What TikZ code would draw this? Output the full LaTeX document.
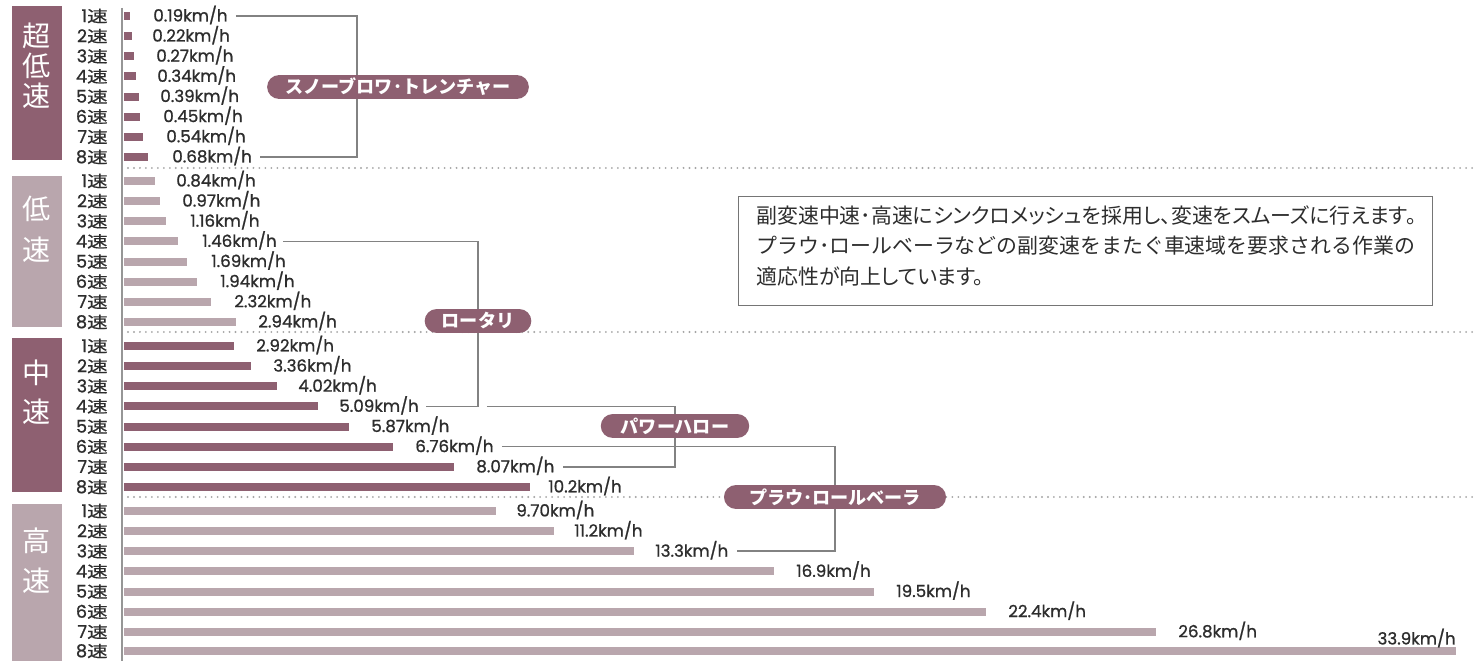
\documentclass[tikz,border=0pt]{standalone}
\usepackage{fontspec}
\setmainfont{Poppins}[FakeBold=1]
\newfontfamily\jp{Noto Sans CJK JP}
\newfontfamily\jpg{Noto Sans CJK JP}[FakeBold=0.6]
\newfontfamily\jpn[RawFeature=+palt]{Noto Sans CJK JP}
\usetikzlibrary{calc}
\definecolor{dk}{RGB}{142,96,113}
\definecolor{lt}{RGB}{185,166,173}
\definecolor{txt}{RGB}{45,45,45}
\definecolor{ln}{RGB}{130,130,130}
\definecolor{dots}{RGB}{165,165,165}
\definecolor{axisc}{RGB}{150,150,150}
\newcommand{\soku}{\scalebox{1.3}[1]{\jpg\fontsize{9}{9}\selectfont 速}}
\begin{document}
\begin{tikzpicture}[x=0.02cm,y=-0.02cm,
  conn/.style={draw=ln,line width=0.9pt},
  val/.style={anchor=west,inner sep=0pt,text height=6.2pt,text depth=0pt,text=txt,font=\fontsize{9.5}{10}\selectfont},
  gear/.style={anchor=east,inner sep=0pt,text=txt,font=\fontsize{10}{10}\selectfont},
  grp/.style={text=white,inner sep=0pt,font=\jp\fontsize{16}{16}\selectfont},
  pill/.style={fill=dk,rounded corners=6.8pt,minimum height=13.6pt,inner sep=0pt,text=white,font=\jp\bfseries\fontsize{10.3}{10}\selectfont},
  sep/.style={draw=dots,line width=1.2pt,line cap=round,dash pattern=on 0pt off 3.4pt},
  notetxt/.style={anchor=west,inner sep=0pt,text=txt,font=\jpn\fontsize{11.9}{12}\selectfont},
  notetxtb/.style={anchor=west,inner sep=0pt,text=txt,font=\jp\fontsize{11.9}{12}\selectfont},
]
\useasboundingbox (0,0) rectangle (1474,661);

% group boxes
\fill[dk] (12,6) rectangle (62,160);
\fill[lt] (12,176) rectangle (62,327);
\fill[dk] (12,338) rectangle (62,492);
\fill[lt] (12,504) rectangle (62,661);
\node[grp] (g0a) at (37,36) {超};
\node[grp] (g0b) at (37,66) {低};
\node[grp] (g0c) at (37,96) {速};
\node[grp] (g1a) at (37,209) {低};
\node[grp] (g1b) at (37,250) {速};
\node[grp] (g2a) at (37,373) {中};
\node[grp] (g2b) at (37,412) {速};
\node[grp] (g3a) at (37,541) {高};
\node[grp] (g3b) at (37,581) {速};

% separators
\draw[sep] (128,168) -- (1474,168);
\draw[sep] (128,332) -- (1474,332);
\draw[sep] (128,497) -- (1474,497);

% axis
\draw[axisc,line width=0.7pt] (122,8) -- (122,661);

% super-low
\foreach \i/\ex/\lx/\val in {1/130/153/0.19,2/132/152/0.22,3/134/156/0.27,4/136/157/0.34,5/139/160/0.39,6/140/163/0.45,7/143/166/0.54,8/148/172/0.68}{
  \pgfmathsetmacro\yy{16+(\i-1)*20.14}
  \fill[dk] (124,\yy-4) rectangle (\ex,\yy+4);
  \node[val] (a\i) at (\lx,\yy) {\val km/h};
  \node[gear] (ga\i) at (108,\yy) {\i\soku};
}
% low
\foreach \i/\ex/\lx/\val in {1/155/176/0.84,2/160/182/0.97,3/166/190/1.16,4/178/202/1.46,5/187/211/1.69,6/197/220/1.94,7/211/234/2.32,8/236/258/2.94}{
  \pgfmathsetmacro\yy{181+(\i-1)*20.14}
  \fill[lt] (124,\yy-4) rectangle (\ex,\yy+4);
  \node[val] (b\i) at (\lx,\yy) {\val km/h};
  \node[gear] (gb\i) at (108,\yy) {\i\soku};
}
% mid
\foreach \i/\ex/\lx/\val in {1/234/256/2.92,2/251/273/3.36,3/277/298/4.02,4/318/339/5.09,5/349/371/5.87,6/393/415/6.76,7/454/476/8.07,8/530/548/10.2}{
  \pgfmathsetmacro\yy{346+(\i-1)*20.14}
  \fill[dk] (124,\yy-4) rectangle (\ex,\yy+4);
  \node[val] (c\i) at (\lx,\yy) {\val km/h};
  \node[gear] (gc\i) at (108,\yy) {\i\soku};
}
% high
\foreach \i/\ex/\lx/\val in {1/496/516/9.70,2/554/574/11.2,3/634/655/13.3,4/774/796/16.9,5/874/896/19.5,6/986/1008/22.4,7/1156/1178/26.8}{
  \pgfmathsetmacro\yy{511+(\i-1)*20.14}
  \fill[lt] (124,\yy-4) rectangle (\ex,\yy+4);
  \node[val] (d\i) at (\lx,\yy) {\val km/h};
  \node[gear] (gd\i) at (108,\yy) {\i\soku};
}
\fill[lt] (124,651-4) rectangle (1456,651+4);
\node[val,anchor=east] (d8) at (1456,639) {33.9km/h};
\node[gear] (gd8) at (108,651) {8\soku};

% connectors
\coordinate (snowx) at (357,0);
\coordinate (rotx) at (478,0);
\coordinate (phx) at (675,0);
\coordinate (plx) at (835,0);
\draw[conn] ([xshift=4.5pt]a1.east) -- (a1.east -| snowx) -- (a8.east -| snowx) -- ([xshift=4.5pt]a8.east);
\draw[conn] ([xshift=3.5pt]b4.east) -- (b4.east -| rotx) -- (c4.east -| rotx) -- ([xshift=4pt]c4.east);
\draw[conn] ([xshift=5pt]c4.east -| rotx) -- (c4.east -| phx) -- (c7.east -| phx) -- ([xshift=4.5pt]c7.east);
\draw[conn] ([xshift=4.5pt]c6.east) -- (c6.east -| plx) -- (d3.east -| plx) -- ([xshift=4.5pt]d3.east);

% pills
\node[pill,minimum width=149pt] (snow) at (398,87) {スノーブロワ･トレンチャー};
\node[pill,minimum width=60.7pt] (rot) at (478,321) {ロータリ};
\node[pill,minimum width=84.5pt] (ph) at (675,426) {パワーハロー};
\node[pill,minimum width=126.4pt] (pl) at (835,497) {プラウ･ロールベーラ};

% note box
\node[draw=ln!90!black,line width=0.5pt,minimum width=395.1pt,minimum height=62.4pt,inner sep=0pt] (note) at (1085.5,251) {};
\node[notetxt] (n1) at (756,216) {副変速中速･高速にシンクロメッシュを採用し、変速をスムーズに行えます。};
\node[notetxtb] (n2) at (756,246) {プラウ･ロールベーラなどの副変速をまたぐ車速域を要求される作業の};
\node[notetxt] (n3) at (756,276) {適応性が向上しています。};
\end{tikzpicture}
\end{document}
